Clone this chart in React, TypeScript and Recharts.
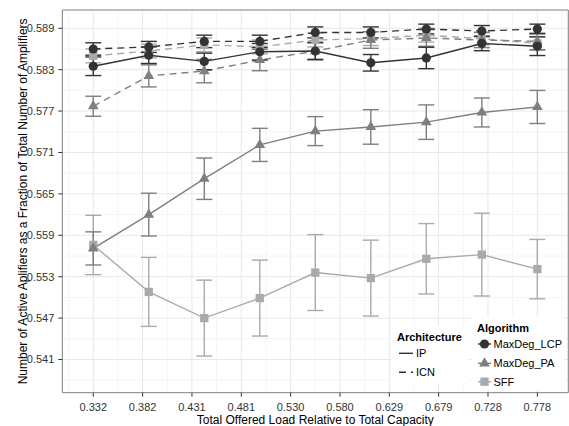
import React from 'react';
import { LineChart, Line, XAxis, YAxis, CartesianGrid, ErrorBar, ReferenceArea } from 'recharts';

// ---- data ----
const loadValues = [0.332, 0.38775, 0.4435, 0.49925, 0.555, 0.61075, 0.6665, 0.72225, 0.778];

const lcpIP = [0.5835, 0.5851, 0.5842, 0.5856, 0.5857, 0.584, 0.5847, 0.5868, 0.5864];
const lcpIPErr = [0.00135, 0.0012, 0.0012, 0.0012, 0.0012, 0.0012, 0.00155, 0.00105, 0.00135];
const lcpICN = [0.586, 0.5863, 0.5871, 0.5871, 0.5884, 0.5884, 0.5889, 0.5886, 0.5889];
const lcpICNErr = [0.0009, 0.0008, 0.0009, 0.0009, 0.0008, 0.0008, 0.0007, 0.0008, 0.0007];

const paIP = [0.5571, 0.562, 0.5672, 0.5721, 0.5741, 0.5747, 0.5754, 0.5768, 0.5776];
const paIPErr = [0.0024, 0.0031, 0.003, 0.0024, 0.0021, 0.0025, 0.0025, 0.0021, 0.0024];
const paICN = [0.5777, 0.5821, 0.5828, 0.5844, 0.5857, 0.5873, 0.5876, 0.5873, 0.5871];
const paICNErr = [0.00145, 0.0016, 0.0017, 0.00155, 0.0013, 0.0012, 0.0012, 0.0011, 0.0012];

const sffIP = [0.5576, 0.5508, 0.547, 0.5499, 0.5536, 0.5528, 0.5556, 0.5562, 0.5541];
const sffIPErr = [0.0043, 0.005, 0.0055, 0.0055, 0.0055, 0.0055, 0.0051, 0.006, 0.0043];
const sffICN = [0.585, 0.5857, 0.5866, 0.5863, 0.5873, 0.5875, 0.588, 0.5875, 0.5868];
const sffICNErr = [0.001, 0.001, 0.001, 0.001, 0.001, 0.001, 0.001, 0.0009, 0.001];

const xTicks = [0.332, 0.38156, 0.43111, 0.48067, 0.53022, 0.57978, 0.62933, 0.67889, 0.72844, 0.778];
const xMinor = [0.30722, 0.35678, 0.40633, 0.45589, 0.50544, 0.555, 0.60456, 0.65411, 0.70367, 0.75322, 0.80278];
const yTicks = [0.541, 0.547, 0.553, 0.559, 0.565, 0.571, 0.577, 0.583, 0.589];
const yMinor = [0.538, 0.544, 0.55, 0.556, 0.562, 0.568, 0.574, 0.58, 0.586];

const xDomain = [0.3009, 0.8091];
const yDomain = [0.53619, 0.59165];

const algorithms = ['MaxDeg_LCP', 'MaxDeg_PA', 'SFF'];
const architectures = ['IP', 'ICN'];

const data = loadValues.map((x, i) => ({
  x,
  lcpIP: lcpIP[i], lcpIPErr: lcpIPErr[i],
  lcpICN: lcpICN[i], lcpICNErr: lcpICNErr[i],
  paIP: paIP[i], paIPErr: paIPErr[i],
  paICN: paICN[i], paICNErr: paICNErr[i],
  sffIP: sffIP[i], sffIPErr: sffIPErr[i],
  sffICN: sffICN[i], sffICNErr: sffICNErr[i],
}));

// ---- styles ----
const COLORS: Record<string, string> = { MaxDeg_LCP: '#333333', MaxDeg_PA: '#7f7f7f', SFF: '#aaaaaa' };
const SHAPES: Record<string, string> = { MaxDeg_LCP: 'circle', MaxDeg_PA: 'triangle', SFF: 'square' };
const DASH = '7 5';
const FONT = '"Liberation Sans", Arial, Helvetica, sans-serif';

const series = [
  { key: 'sffIP', err: 'sffIPErr', alg: 'SFF', arch: 'IP' },
  { key: 'sffICN', err: 'sffICNErr', alg: 'SFF', arch: 'ICN' },
  { key: 'paIP', err: 'paIPErr', alg: 'MaxDeg_PA', arch: 'IP' },
  { key: 'paICN', err: 'paICNErr', alg: 'MaxDeg_PA', arch: 'ICN' },
  { key: 'lcpIP', err: 'lcpIPErr', alg: 'MaxDeg_LCP', arch: 'IP' },
  { key: 'lcpICN', err: 'lcpICNErr', alg: 'MaxDeg_LCP', arch: 'ICN' },
];

function Marker({ cx, cy, shape, color }: { cx?: number; cy?: number; shape: string; color: string }) {
  if (cx == null || cy == null || isNaN(cx) || isNaN(cy)) return null;
  if (shape === 'circle') return <circle cx={cx} cy={cy} r={4.6} fill={color} />;
  if (shape === 'triangle') {
    const s = 3.97;
    const pts = `${cx},${cy - 1.555 * s} ${cx + 1.347 * s},${cy + 0.778 * s} ${cx - 1.347 * s},${cy + 0.778 * s}`;
    return <polygon points={pts} fill={color} />;
  }
  return <rect x={cx - 4.15} y={cy - 4.15} width={8.3} height={8.3} fill={color} />;
}

const W = 569;
const H = 426;
const PLOT_L = 62.3;
const PLOT_R = 568.3;
const PLOT_T = 10;
const PLOT_B = 392.7;

function Overlay() {
  const archY = [353.3, 372.3];
  const algY = [344, 363.3, 381.7];
  return (
    <svg width={W} height={H} style={{ position: 'absolute', left: 0, top: 0, pointerEvents: 'none' }} fontFamily={FONT}>
      <text
        x={27}
        y={(PLOT_T + PLOT_B) / 2}
        transform={`rotate(-90 27 ${(PLOT_T + PLOT_B) / 2})`}
        textAnchor="middle"
        fontSize={12}
        fill="#000"
      >
        Number of Active Aplifiers as a Fraction of Total Number of Amplifiers
      </text>
      <text x={(PLOT_L + PLOT_R) / 2} y={423.5} textAnchor="middle" fontSize={12} fill="#000">
        Total Offered Load Relative to Total Capacity
      </text>

      {/* Architecture legend */}
      <rect x={391} y={326} width={78} height={57} fill="#ffffff" />
      <text x={397} y={341} fontSize={11} fontWeight="bold" fill="#000">Architecture</text>
      {architectures.map((a, i) => (
        <g key={a}>
          <line x1={399} x2={413} y1={archY[i]} y2={archY[i]} stroke="#333333" strokeWidth={1.4}
            strokeDasharray={a === 'ICN' ? DASH : undefined} />
          <text x={416} y={archY[i] + 4} fontSize={11} fill="#000">{a}</text>
        </g>
      ))}

      {/* Algorithm legend */}
      <rect x={472} y={317} width={92} height={73} fill="#ffffff" />
      <text x={477} y={331.5} fontSize={11} fontWeight="bold" fill="#000">Algorithm</text>
      {algorithms.map((a, i) => (
        <g key={a}>
          <line x1={478} x2={491} y1={algY[i]} y2={algY[i]} stroke={COLORS[a]} strokeWidth={1.4} />
          <Marker cx={484.5} cy={algY[i]} shape={SHAPES[a]} color={COLORS[a]} />
          <text x={493.5} y={algY[i] + 4} fontSize={11} fill="#000">{a}</text>
        </g>
      ))}
    </svg>
  );
}

export default function App() {
  const tickStyle = { fontSize: 11, fill: '#333333', fontFamily: FONT };
  return (
    <div style={{ position: 'absolute', left: 0, top: 0, width: W, height: H, background: '#fff' }}>
      <LineChart
        width={W}
        height={H}
        data={data}
        margin={{ top: PLOT_T, right: W - PLOT_R, left: 0, bottom: 0 }}
      >
        <CartesianGrid horizontalValues={yMinor} verticalValues={xMinor} stroke="#f4f4f4" strokeWidth={1} fill="none" />
        <CartesianGrid horizontalValues={yTicks} verticalValues={xTicks} stroke="#e8e8e8" strokeWidth={1} fill="none" />
        <XAxis
          type="number"
          dataKey="x"
          domain={xDomain}
          ticks={xTicks}
          allowDataOverflow
          tickFormatter={(v: number) => v.toFixed(3)}
          tick={tickStyle}
          tickSize={4}
          tickMargin={6}
          tickLine={{ stroke: '#333333' }}
          axisLine={false}
          height={H - PLOT_B}
          interval={0}
        />
        <YAxis
          type="number"
          domain={yDomain}
          ticks={yTicks}
          allowDataOverflow
          tickFormatter={(v: number) => v.toFixed(3)}
          tick={tickStyle}
          tickSize={4}
          tickMargin={4}
          tickLine={{ stroke: '#333333' }}
          axisLine={false}
          width={PLOT_L}
          interval={0}
        />
        <ReferenceArea
          x1={xDomain[0]}
          x2={xDomain[1]}
          y1={yDomain[0]}
          y2={yDomain[1]}
          fill="none"
          stroke="#7f7f7f"
          strokeWidth={1}
          ifOverflow="visible"
        />
        {series.map((s) => (
          <Line
            key={s.key}
            dataKey={s.key}
            type="linear"
            stroke={COLORS[s.alg]}
            strokeWidth={1.4}
            strokeDasharray={s.arch === 'ICN' ? DASH : undefined}
            isAnimationActive={false}
            activeDot={false}
            dot={(p: any) => (
              <Marker key={`${s.key}-${p.index}`} cx={p.cx} cy={p.cy} shape={SHAPES[s.alg]} color={COLORS[s.alg]} />
            )}
          >
            <ErrorBar dataKey={s.err} direction="y" width={8} stroke={COLORS[s.alg]} strokeWidth={1.4} />
          </Line>
        ))}
      </LineChart>
      <Overlay />
    </div>
  );
}
